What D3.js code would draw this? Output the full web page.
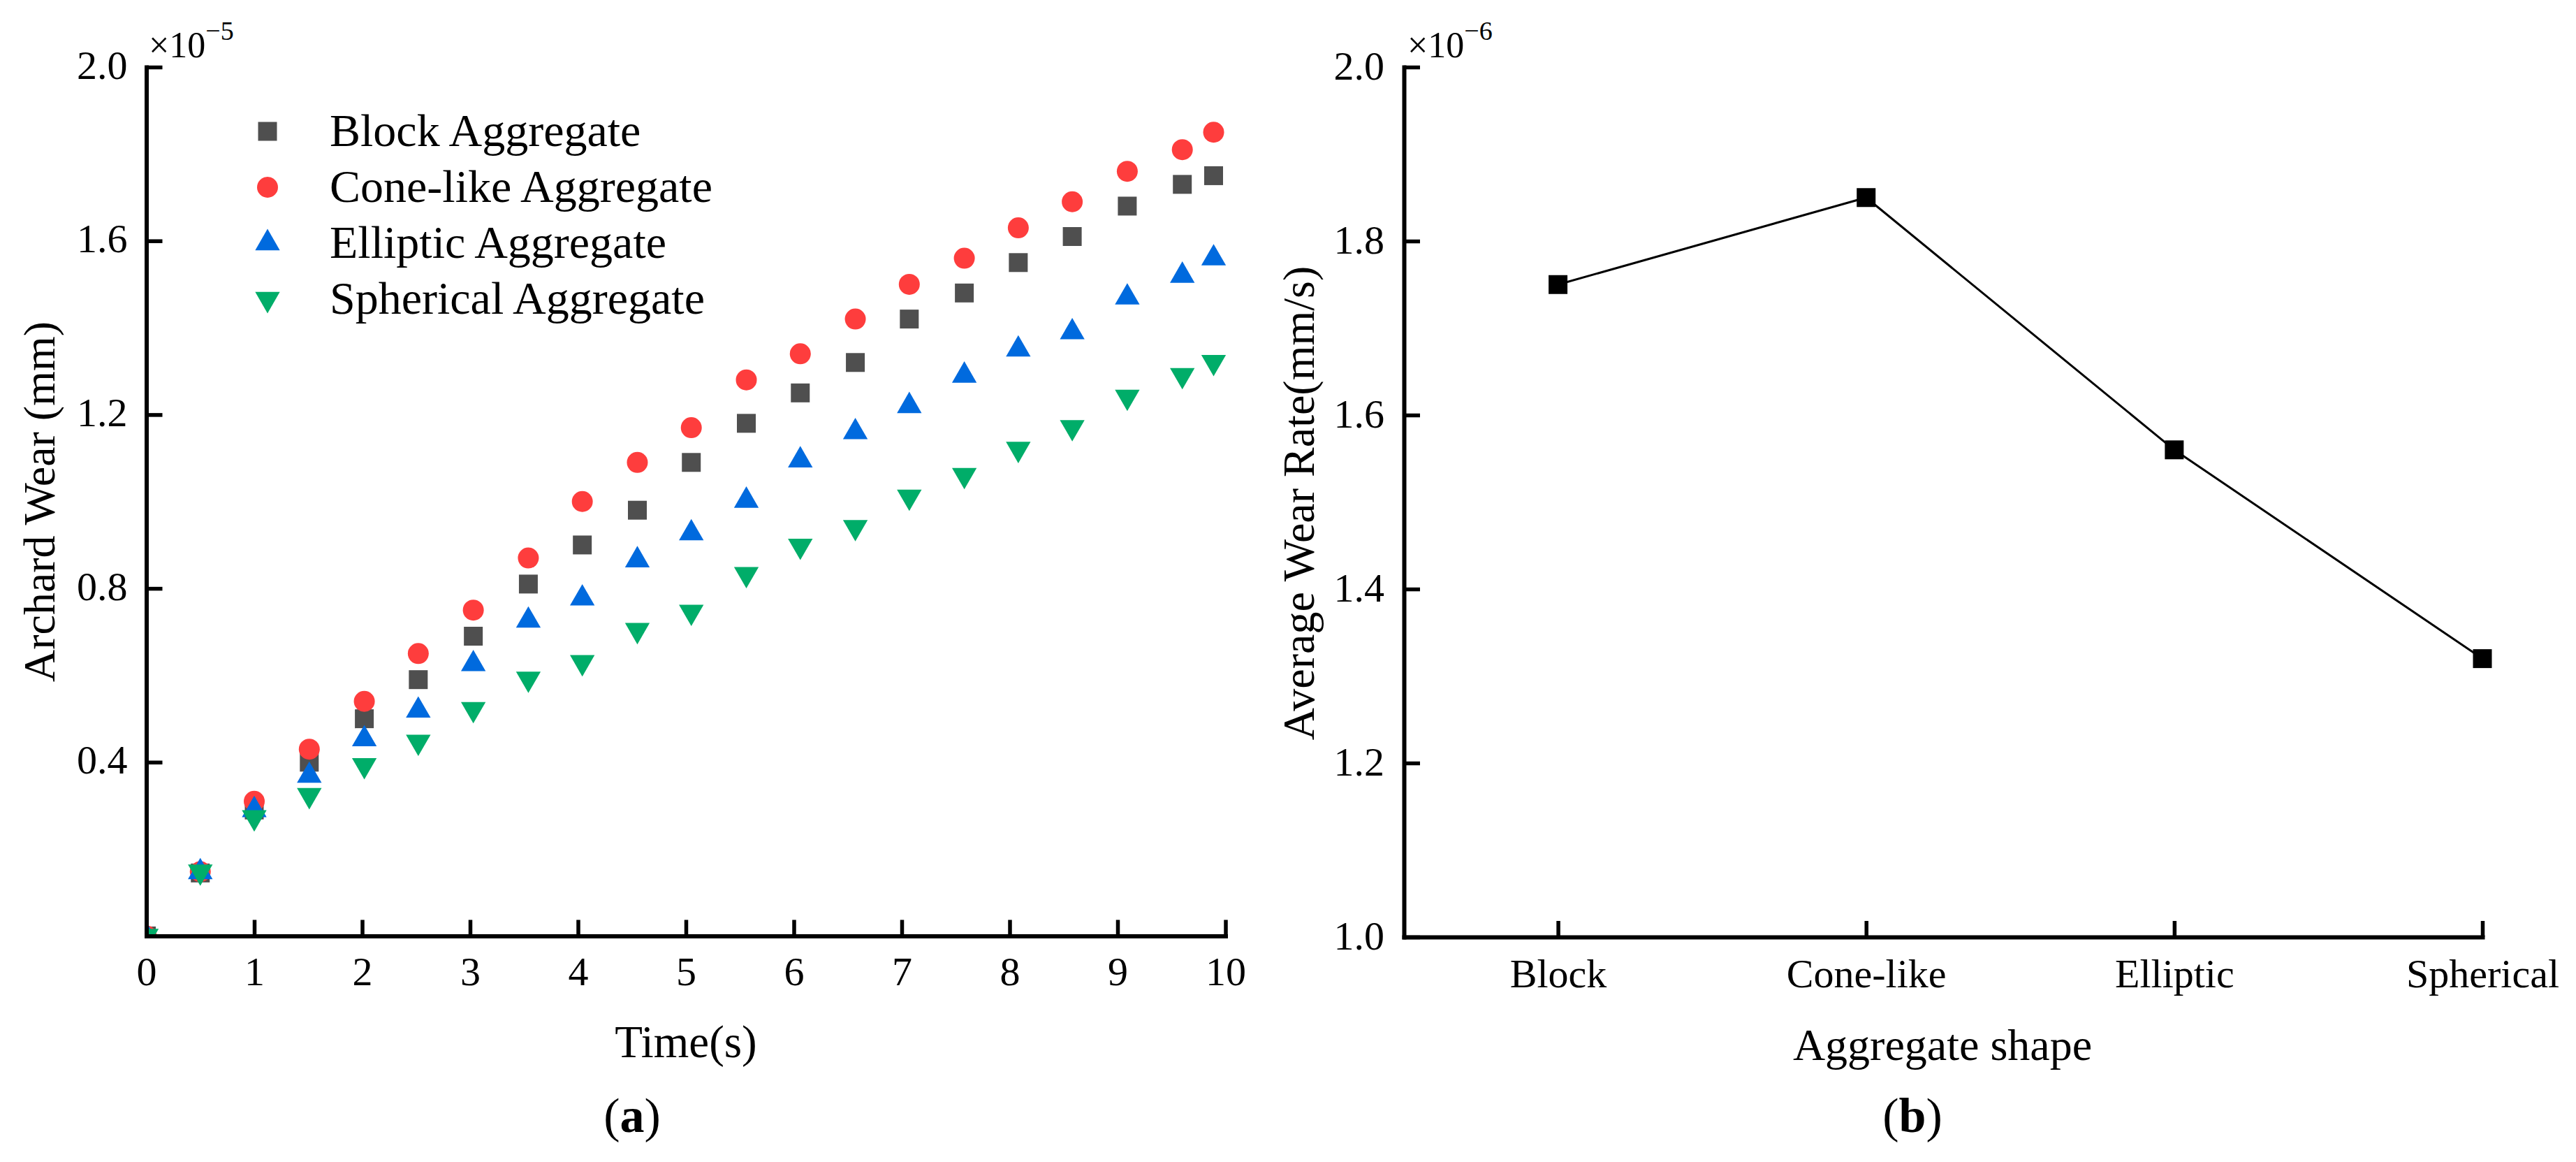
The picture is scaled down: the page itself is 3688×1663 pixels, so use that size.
<!DOCTYPE html>
<html>
<head>
<meta charset="utf-8">
<script src="https://cdn.jsdelivr.net/npm/d3@7"></script>
<style>
	html, body { margin: 0; padding: 0; background: #fff; }
	svg { display: block; font-family: 'Liberation Serif', 'Times New Roman', serif; }
</style>
</head>
<body>
<svg width="3688" height="1663"></svg>
<script>

// (a) Archard wear against time, values in units of 1e-5 mm
const time = [ 0, 0.5, 1.0, 1.51, 2.02, 2.52, 3.03, 3.54, 4.04, 4.55, 5.05, 5.56, 6.06, 6.57, 7.07, 7.58, 8.08, 8.58, 9.09, 9.6, 9.89 ]
const blockWear = [ 0, 0.145, 0.29, 0.40, 0.50, 0.59, 0.69, 0.81, 0.90, 0.98, 1.09, 1.18, 1.25, 1.32, 1.42, 1.48, 1.55, 1.61, 1.68, 1.73, 1.75 ]
const coneWear = [ 0, 0.148, 0.31, 0.43, 0.54, 0.65, 0.75, 0.87, 1.00, 1.09, 1.17, 1.28, 1.34, 1.42, 1.50, 1.56, 1.63, 1.69, 1.76, 1.81, 1.85 ]
const ellipticWear = [ 0, 0.147, 0.29, 0.369, 0.453, 0.519, 0.626, 0.726, 0.777, 0.865, 0.927, 1.002, 1.095, 1.16, 1.22, 1.29, 1.35, 1.39, 1.47, 1.52, 1.56 ]
const sphericalWear = [ 0, 0.148, 0.273, 0.324, 0.393, 0.447, 0.522, 0.592, 0.63, 0.704, 0.746, 0.833, 0.898, 0.941, 1.011, 1.061, 1.121, 1.171, 1.241, 1.291, 1.321 ]
const seriesNames = [ 'Block Aggregate', 'Cone-like Aggregate', 'Elliptic Aggregate', 'Spherical Aggregate' ]
const timeTicks = [ 0, 1, 2, 3, 4, 5, 6, 7, 8, 9, 10 ]
const wearTicks = [ 0.4, 0.8, 1.2, 1.6, 2.0 ]

// (b) average wear rate per aggregate shape, units of 1e-6 mm/s
const shapes = [ 'Block', 'Cone-like', 'Elliptic', 'Spherical' ]
const wearRate = [ 1.75, 1.85, 1.56, 1.32 ]
const rateTicks = [ 1.0, 1.2, 1.4, 1.6, 1.8, 2.0 ]

const svg = d3.select( 'svg' ),
	colors = [ '#4f4f4f', '#fe3d3d', '#006ade', '#00ad69' ],
	symbols = [ d3.symbolSquare, d3.symbolCircle, d3.symbolTriangle, d3.symbolTriangle ],
	sizes = [ 27 * 27, Math.PI * 15 * 15, 540, 540 ],
	rotations = [ 0, 0, 0, 180 ],
	wearSeries = [ blockWear, coneWear, ellipticWear, sphericalWear ]

svg.append( 'rect' ).attr( 'width', 3688 ).attr( 'height', 1663 ).attr( 'fill', '#fff' )

function styleAxis( g, fontSize ) {
	g.attr( 'font-family', null ).attr( 'font-size', fontSize )
	g.select( '.domain' ).attr( 'stroke', '#000' ).attr( 'stroke-width', 6 ).attr( 'stroke-linecap', 'square' )
	g.selectAll( '.tick line' ).attr( 'stroke', '#000' ).attr( 'stroke-width', 5.5 )
	g.selectAll( '.tick text' ).attr( 'fill', '#000' )
}

function exponent( x, y, power ) {
	const t = svg.append( 'text' ).attr( 'x', x ).attr( 'y', y ).attr( 'font-size', 52 )
	t.append( 'tspan' ).text( '×10' )
	t.append( 'tspan' ).attr( 'font-size', 38 ).attr( 'dy', -25 ).text( power )
}

// ---------- panel (a) ----------
const xA = d3.scaleLinear().domain( [ 0, 10 ] ).range( [ 209.5, 1754.5 ] ),
	yA = d3.scaleLinear().domain( [ 0, 2 ] ).range( [ 1339.5, 96 ] )

svg.append( 'clipPath' ).attr( 'id', 'clipA' )
	.append( 'rect' ).attr( 'x', xA( 0 ) ).attr( 'y', 0 ).attr( 'width', 1600 ).attr( 'height', yA( 0 ) )

const dots = svg.append( 'g' ).attr( 'clip-path', 'url(#clipA)' )

wearSeries.forEach( ( values, i ) => {
	dots.append( 'g' )
		.selectAll( 'path' )
		.data( values )
		.enter()
		.append( 'path' )
		.attr( 'd', d3.symbol().type( symbols[ i ] ).size( sizes[ i ] ) )
		.attr( 'transform', ( d, j ) => `translate(${xA( time[ j ] )},${yA( d )}) rotate(${rotations[ i ]})` )
		.attr( 'fill', colors[ i ] )
})

const axisA = svg.append( 'g' )
	.attr( 'transform', `translate(0,${yA( 0 )})` )
	.call( d3.axisBottom( xA ).tickValues( timeTicks ).tickSizeInner( -23 ).tickSizeOuter( 0 ).tickPadding( 29 ) )
styleAxis( axisA, 58 )

const axisAy = svg.append( 'g' )
	.attr( 'transform', `translate(${xA( 0 )},0)` )
	.call( d3.axisLeft( yA ).tickValues( wearTicks ).tickFormat( d3.format( '.1f' ) ).tickSizeInner( -23 ).tickSizeOuter( 0 ).tickPadding( 27 ) )
styleAxis( axisAy, 58 )
axisAy.selectAll( '.tick text' ).attr( 'dy', 16 )

exponent( 213, 82, '−5' )

// legend
const legend = svg.append( 'g' )
seriesNames.forEach( ( name, i ) => {
	const y = 209 + i * 80
	legend.append( 'path' )
		.attr( 'd', d3.symbol().type( symbols[ i ] ).size( sizes[ i ] )() )
		.attr( 'transform', `translate(383,${y - 21}) rotate(${rotations[ i ]})` )
		.attr( 'fill', colors[ i ] )
	legend.append( 'text' )
		.attr( 'x', 472 )
		.attr( 'y', y )
		.attr( 'font-size', 66 )
		.text( name )
})

svg.append( 'text' )
	.attr( 'x', 982 ).attr( 'y', 1513 )
	.attr( 'text-anchor', 'middle' ).attr( 'font-size', 65 )
	.text( 'Time(s)' )

svg.append( 'text' )
	.attr( 'transform', 'translate(78,718) rotate(-90)' )
	.attr( 'text-anchor', 'middle' ).attr( 'font-size', 64 )
	.text( 'Archard Wear (mm)' )

const capA = svg.append( 'text' )
	.attr( 'x', 905 ).attr( 'y', 1620 )
	.attr( 'text-anchor', 'middle' ).attr( 'font-size', 70 )
capA.append( 'tspan' ).text( '(' )
capA.append( 'tspan' ).attr( 'font-weight', 'bold' ).text( 'a' )
capA.append( 'tspan' ).text( ')' )

// ---------- panel (b) ----------
const xB = d3.scaleLinear().domain( [ -0.5, 3 ] ).range( [ 2010, 3554 ] ),
	yB = d3.scaleLinear().domain( [ 1, 2 ] ).range( [ 1341, 96 ] )

const axisB = svg.append( 'g' )
	.attr( 'transform', `translate(0,${yB( 1 )})` )
	.call( d3.axisBottom( xB ).tickValues( d3.range( shapes.length ) ).tickFormat( i => shapes[ i ] ).tickSizeInner( -23 ).tickSizeOuter( 0 ).tickPadding( 31 ) )
styleAxis( axisB, 58 )

const axisBy = svg.append( 'g' )
	.attr( 'transform', `translate(${xB( -0.5 )},0)` )
	.call( d3.axisLeft( yB ).tickValues( rateTicks ).tickFormat( d3.format( '.1f' ) ).tickSizeInner( -23 ).tickSizeOuter( 0 ).tickPadding( 28 ) )
styleAxis( axisBy, 58 )
axisBy.selectAll( '.tick text' ).attr( 'dy', 17 )

exponent( 2015, 82, '−6' )

const line = d3.line()
	.x( ( d, i ) => xB( i ) )
	.y( d => yB( d ) )

svg.append( 'path' )
	.datum( wearRate )
	.attr( 'd', line )
	.attr( 'fill', 'none' )
	.attr( 'stroke', '#000' )
	.attr( 'stroke-width', 3 )

svg.append( 'g' )
	.selectAll( 'path' )
	.data( wearRate )
	.enter()
	.append( 'path' )
	.attr( 'd', d3.symbol().type( d3.symbolSquare ).size( 27 * 27 ) )
	.attr( 'transform', ( d, i ) => `translate(${xB( i )},${yB( d )})` )
	.attr( 'fill', '#000' )

svg.append( 'text' )
	.attr( 'x', 2781 ).attr( 'y', 1517 )
	.attr( 'text-anchor', 'middle' ).attr( 'font-size', 64 )
	.text( 'Aggregate shape' )

svg.append( 'text' )
	.attr( 'transform', 'translate(1881,720) rotate(-90)' )
	.attr( 'text-anchor', 'middle' ).attr( 'font-size', 64 )
	.text( 'Average Wear Rate(mm/s)' )

const capB = svg.append( 'text' )
	.attr( 'x', 2738 ).attr( 'y', 1620 )
	.attr( 'text-anchor', 'middle' ).attr( 'font-size', 70 )
capB.append( 'tspan' ).text( '(' )
capB.append( 'tspan' ).attr( 'font-weight', 'bold' ).text( 'b' )
capB.append( 'tspan' ).text( ')' )

</script>
</body>
</html>
